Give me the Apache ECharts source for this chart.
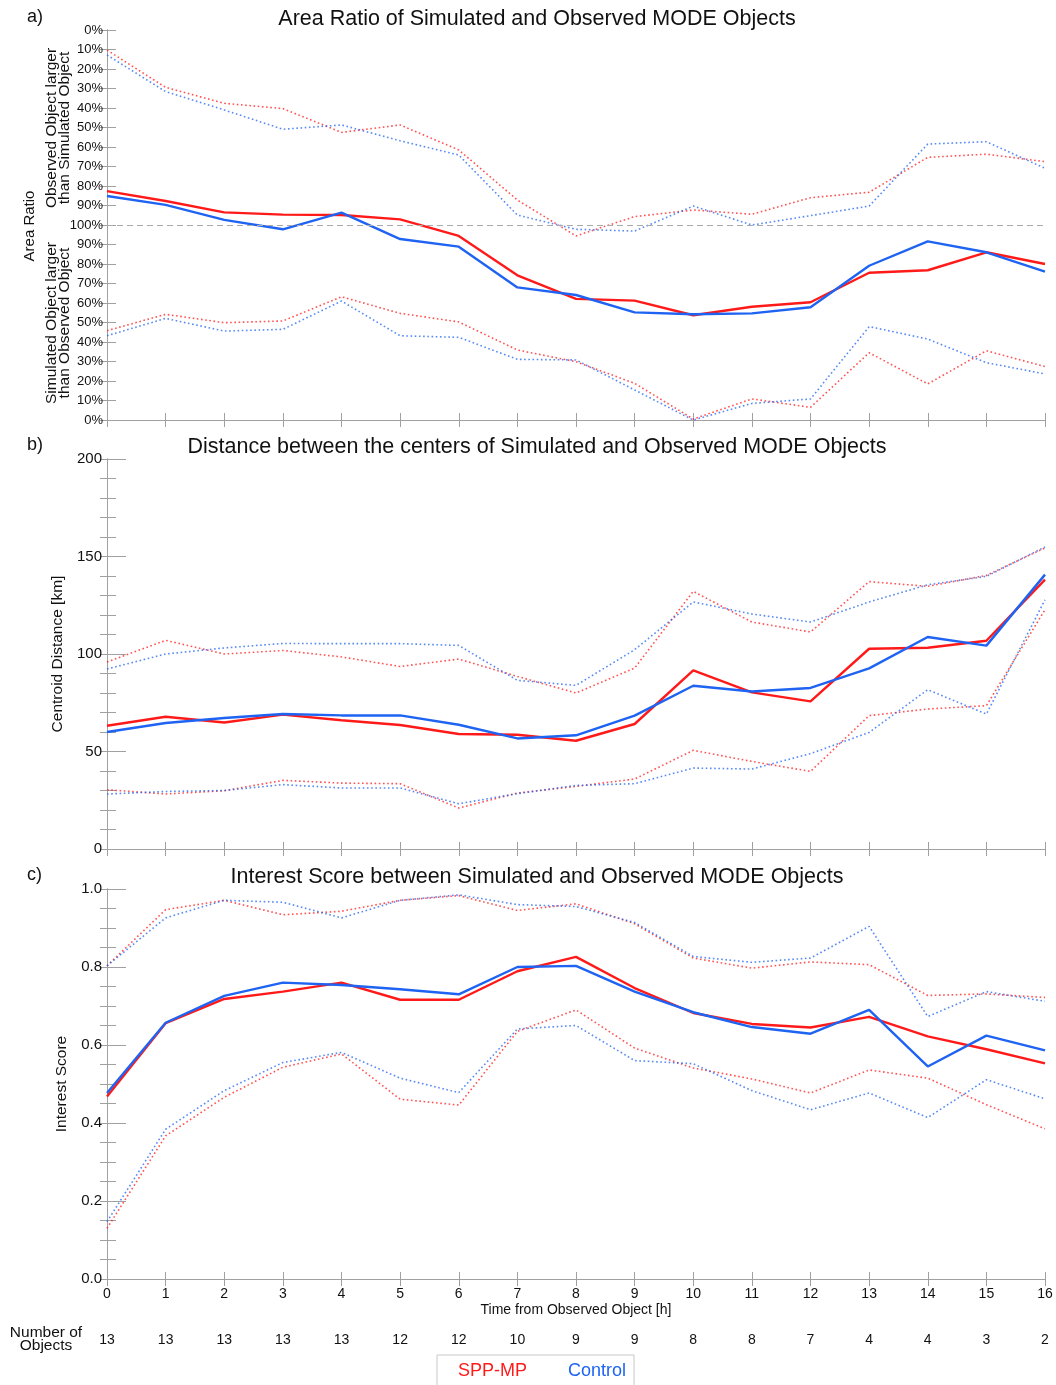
<!DOCTYPE html>
<html>
<head>
<meta charset="utf-8">
<script src="https://cdn.jsdelivr.net/npm/echarts@6/dist/echarts.min.js"></script>
<style>
  html, body { margin: 0; padding: 0; background: #fff; }
  #chart { width: 1056px; height: 1385px; }
</style>
</head>
<body>
<div id="chart"></div>
<script>
// hours after the observed object, and how many objects went into each hour
const hours = [0, 1, 2, 3, 4, 5, 6, 7, 8, 9, 10, 11, 12, 13, 14, 15, 16];
const objectCounts = [13, 13, 13, 13, 13, 12, 12, 10, 9, 9, 8, 8, 7, 4, 4, 3, 2];

// a) area ratio, on a 0..200 scale (100 = equal size, above = observed larger)
const areaSppMean = [117.4, 112.3, 106.5, 105.3, 105.1, 102.9, 94.4, 74.2, 62.1, 61.2, 53.7, 58.1, 60.4, 75.5, 76.8, 86.0, 80.0];
const areaCtlMean = [114.9, 110.3, 102.6, 97.8, 106.3, 92.8, 88.9, 68.0, 64.1, 55.2, 54.2, 54.7, 57.8, 79.1, 91.6, 86.0, 76.1];
const areaSppHigh = [189.7, 170.6, 162.4, 159.7, 147.5, 151.3, 138.5, 112.8, 94.4, 104.3, 107.7, 105.5, 114.0, 116.8, 134.7, 136.3, 132.5];
const areaCtlHigh = [187.2, 168.4, 159.0, 149.1, 151.3, 143.2, 135.9, 105.1, 97.8, 96.9, 109.7, 100.0, 104.8, 109.7, 141.5, 142.7, 129.1];
const areaSppLow = [45.8, 54.2, 49.9, 50.8, 63.2, 54.7, 50.3, 35.9, 29.9, 18.8, 0.5, 10.8, 6.5, 34.5, 18.5, 35.5, 27.4];
const areaCtlLow = [43.2, 52.1, 45.6, 46.5, 61.0, 43.2, 42.4, 31.1, 30.8, 15.4, 0.0, 8.5, 10.8, 47.9, 41.5, 29.4, 23.6];
const areaTicks = [0, 10, 20, 30, 40, 50, 60, 70, 80, 90, 100, 90, 80, 70, 60, 50, 40, 30, 20, 10, 0];

// b) centroid distance [km]
const distSppMean = [63.2, 67.8, 64.9, 68.9, 66.0, 63.6, 59.0, 58.6, 55.5, 64.1, 91.6, 80.3, 75.7, 102.7, 103.2, 106.8, 138.1];
const distCtlMean = [60.0, 64.6, 67.2, 69.2, 68.5, 68.5, 63.7, 56.7, 58.3, 68.4, 83.7, 80.8, 82.6, 92.6, 108.7, 104.3, 140.7];
const distSppHigh = [95.9, 107.0, 100.0, 101.8, 98.5, 93.6, 97.4, 88.5, 80.0, 92.8, 132.1, 116.4, 111.3, 137.1, 134.7, 140.3, 154.4];
const distCtlHigh = [92.3, 100.0, 103.1, 105.4, 105.3, 105.3, 104.4, 86.5, 83.9, 102.2, 126.7, 120.5, 116.4, 126.7, 135.5, 139.8, 154.9];
const distSppLow = [30.4, 28.2, 29.9, 35.2, 33.8, 33.5, 21.0, 28.7, 32.1, 35.9, 50.6, 44.9, 39.8, 68.4, 71.8, 73.5, 122.7];
const distCtlLow = [28.2, 29.5, 30.0, 33.0, 31.3, 31.3, 23.2, 28.4, 32.6, 33.5, 41.5, 41.0, 48.9, 59.8, 81.7, 69.2, 127.8];

// c) interest score
const scoreSppMean = [0.468, 0.656, 0.718, 0.737, 0.760, 0.716, 0.716, 0.789, 0.826, 0.746, 0.682, 0.654, 0.645, 0.672, 0.622, 0.589, 0.553];
const scoreCtlMean = [0.477, 0.657, 0.726, 0.760, 0.754, 0.743, 0.730, 0.800, 0.803, 0.737, 0.684, 0.646, 0.629, 0.690, 0.545, 0.624, 0.586];
const scoreSppHigh = [0.803, 0.947, 0.971, 0.934, 0.943, 0.971, 0.983, 0.945, 0.962, 0.911, 0.823, 0.797, 0.813, 0.806, 0.727, 0.731, 0.722];
const scoreCtlHigh = [0.803, 0.926, 0.971, 0.966, 0.926, 0.971, 0.985, 0.960, 0.955, 0.914, 0.827, 0.812, 0.823, 0.904, 0.673, 0.737, 0.712];
const scoreSppLow = [0.130, 0.367, 0.466, 0.543, 0.577, 0.461, 0.446, 0.635, 0.690, 0.592, 0.541, 0.513, 0.477, 0.536, 0.515, 0.447, 0.385];
const scoreCtlLow = [0.147, 0.384, 0.483, 0.555, 0.581, 0.515, 0.478, 0.641, 0.650, 0.560, 0.552, 0.483, 0.434, 0.477, 0.414, 0.511, 0.462];

const RED = '#ff1a1a';
const BLUE = '#1f63f2';
const FRAME = '#a0a0a0';
const FONT = 'Liberation Sans';

const chart = echarts.init(document.getElementById('chart'));

// grid tops, all panels have the same height
const gridTops = [30, 459, 889];

function xAxes(gridIndex, withLabels) {
    const base = {
        type: 'value', gridIndex, min: 0, max: 16, interval: 1,
        axisLine: { show: true, lineStyle: { color: FRAME, width: 1 } },
        axisTick: { show: true, inside: true, length: 7, lineStyle: { color: FRAME } },
        splitLine: { show: false }
    };
    const bottom = Object.assign({}, base, {
        position: 'bottom',
        axisLabel: { show: withLabels, color: '#111', fontSize: 14, fontFamily: FONT, margin: 8 }
    });
    if (withLabels) {
        Object.assign(bottom, {
            name: 'Time from Observed Object [h]', nameLocation: 'middle', nameGap: 24,
            nameTextStyle: { color: '#111', fontSize: 14, fontFamily: FONT }
        });
    }
    const top = Object.assign({}, base, { position: 'top', axisLabel: { show: false } });
    return [bottom, top];
}

function yAxes(gridIndex, left, rightInterval) {
    const l = Object.assign({
        type: 'value', gridIndex, position: 'left',
        axisLine: { show: true, lineStyle: { color: FRAME } },
        axisTick: { show: true, inside: true, length: 19, lineStyle: { color: FRAME } },
        splitLine: { show: false }
    }, left);
    const r = {
        type: 'value', gridIndex, position: 'right', min: l.min, max: l.max, interval: rightInterval,
        axisLine: { show: true, lineStyle: { color: FRAME } },
        axisTick: { show: true, inside: true, length: 7, lineStyle: { color: FRAME } },
        axisLabel: { show: false },
        splitLine: { show: false }
    };
    return [l, r];
}

const xAxis = [].concat(xAxes(0, false), xAxes(1, false), xAxes(2, true));
// extra bottom axis for the object counts row
xAxis.push({
    type: 'value', gridIndex: 2, position: 'bottom', offset: 46, min: 0, max: 16, interval: 1,
    axisLine: { show: false }, axisTick: { show: false }, splitLine: { show: false },
    axisLabel: { color: '#111', fontSize: 14, fontFamily: FONT, formatter: v => objectCounts[hours.indexOf(v)] }
});

const yAxis = [].concat(
    yAxes(0, {
        min: 0, max: 200, interval: 10,
        axisTick: { show: true, inside: true, length: 9, lineStyle: { color: FRAME } },
        axisLabel: { color: '#111', fontSize: 13, fontFamily: FONT, margin: 4,
            formatter: v => areaTicks[Math.round(v / 10)] + '%' }
    }, 10),
    yAxes(1, {
        min: 0, max: 200, interval: 50,
        minorTick: { show: true, splitNumber: 5, length: 9, lineStyle: { color: FRAME } },
        axisLabel: { color: '#111', fontSize: 15, fontFamily: FONT, margin: 5 },
        name: 'Centroid Distance [km]', nameLocation: 'middle', nameGap: 40, nameRotate: 90,
        nameTextStyle: { color: '#111', fontSize: 15.5, fontFamily: FONT }
    }, 10),
    yAxes(2, {
        min: 0, max: 1, interval: 0.2,
        minorTick: { show: true, splitNumber: 4, length: 9, lineStyle: { color: FRAME } },
        axisLabel: { color: '#111', fontSize: 15, fontFamily: FONT, margin: 5, formatter: v => v.toFixed(1) },
        name: 'Interest Score', nameLocation: 'middle', nameGap: 37, nameRotate: 90,
        nameTextStyle: { color: '#111', fontSize: 15.5, fontFamily: FONT }
    }, 0.05)
);

function line(name, values, color, dotted, panel) {
    return {
        name, type: 'line', xAxisIndex: panel * 2, yAxisIndex: panel * 2,
        data: values.map((v, i) => [hours[i], v]),
        symbol: 'none', silent: true, z: dotted ? 2 : 3,
        lineStyle: dotted
            ? { color, width: 1.6, type: [1.6, 2.6], opacity: 0.75 }
            : { color, width: 2.4 },
        itemStyle: { color }
    };
}

const series = [];
[
    [areaSppMean, areaCtlMean, areaSppHigh, areaCtlHigh, areaSppLow, areaCtlLow],
    [distSppMean, distCtlMean, distSppHigh, distCtlHigh, distSppLow, distCtlLow],
    [scoreSppMean, scoreCtlMean, scoreSppHigh, scoreCtlHigh, scoreSppLow, scoreCtlLow]
].forEach((set, p) => {
    series.push(line('SPP-MP', set[2], RED, true, p));
    series.push(line('Control', set[3], BLUE, true, p));
    series.push(line('SPP-MP', set[4], RED, true, p));
    series.push(line('Control', set[5], BLUE, true, p));
    series.push(line('SPP-MP', set[0], RED, false, p));
    series.push(line('Control', set[1], BLUE, false, p));
});

// dashed 100% line in panel a
series[0].markLine = {
    silent: true, symbol: ['none', 'none'], label: { show: false },
    lineStyle: { color: '#aaa', type: [6, 4], width: 1 },
    data: [{ yAxis: 100 }]
};

const titleStyle = { color: '#111', fontSize: 21.5, fontWeight: 'normal', fontFamily: FONT };

chart.setOption({
    animation: false,
    backgroundColor: '#fff',
    title: [
        { text: 'Area Ratio of Simulated and Observed MODE Objects', left: 532, top: 3, textAlign: 'center', textStyle: titleStyle },
        { text: 'Distance between the centers of Simulated and Observed MODE Objects', left: 532, top: 431, textAlign: 'center', textStyle: titleStyle },
        { text: 'Interest Score between Simulated and Observed MODE Objects', left: 532, top: 861, textAlign: 'center', textStyle: titleStyle }
    ],
    grid: gridTops.map(t => ({ left: 107, right: 11, top: t, height: 390 })),
    xAxis, yAxis, series,
    legend: {
        left: 437, top: 1355,
        data: [
            { name: 'SPP-MP', icon: 'none', textStyle: { color: RED } },
            { name: 'Control', icon: 'none', textStyle: { color: BLUE } }
        ],
        itemWidth: 0, itemHeight: 0, itemGap: 36,
        padding: [7, 8, 12, 16],
        borderColor: '#c8c8c8', borderWidth: 1,
        textStyle: { fontSize: 18, fontFamily: FONT, padding: 0 },
        selectedMode: false
    },
    graphic: [
        { type: 'text', left: 27, top: 8, style: { text: 'a)', fontSize: 18, fontFamily: FONT, fill: '#111' } },
        { type: 'text', left: 27, top: 436, style: { text: 'b)', fontSize: 18, fontFamily: FONT, fill: '#111' } },
        { type: 'text', left: 27, top: 866, style: { text: 'c)', fontSize: 18, fontFamily: FONT, fill: '#111' } },
        { type: 'text', x: 30, y: 226, rotation: Math.PI / 2,
          style: { text: 'Area Ratio', fontSize: 15, fontFamily: FONT, fill: '#111', align: 'center', verticalAlign: 'middle' } },
        { type: 'text', x: 58, y: 128, rotation: Math.PI / 2,
          style: { text: 'Observed Object larger\nthan Simulated Object', fontSize: 15.5, lineHeight: 12.5, fontFamily: FONT, fill: '#111', align: 'center', verticalAlign: 'middle' } },
        { type: 'text', x: 58, y: 323, rotation: Math.PI / 2,
          style: { text: 'Simulated Object larger\nthan Observed Object', fontSize: 15.5, lineHeight: 12.5, fontFamily: FONT, fill: '#111', align: 'center', verticalAlign: 'middle' } },
        { type: 'text', x: 46, y: 1339,
          style: { text: 'Number of\nObjects', fontSize: 15.5, lineHeight: 12.5, fontFamily: FONT, fill: '#111', align: 'center', verticalAlign: 'middle' } }
    ]
});

window.addEventListener('resize', () => chart.resize());
</script>
</body>
</html>
